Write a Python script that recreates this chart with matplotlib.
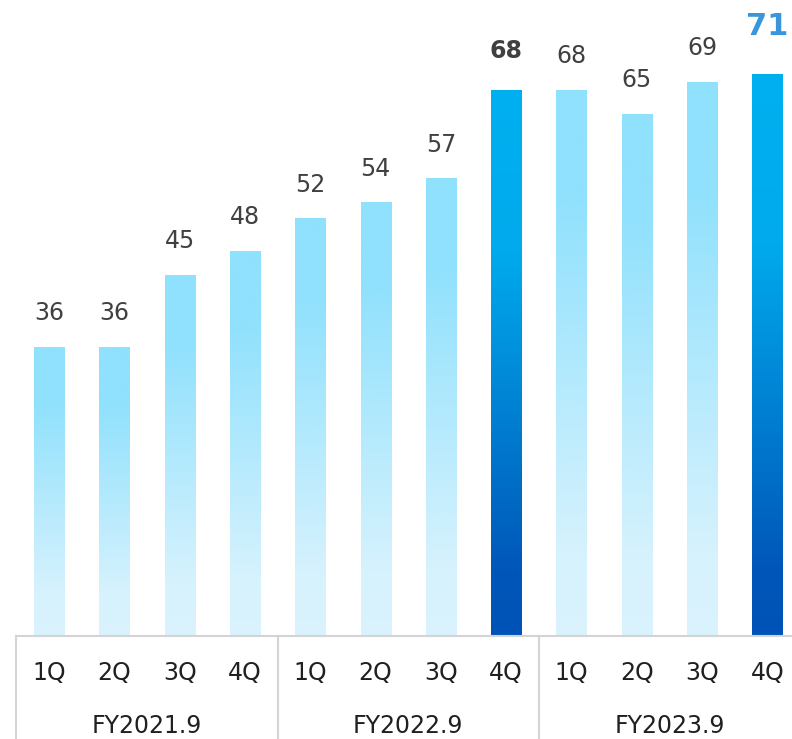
import numpy as np
import matplotlib
matplotlib.use("Agg")
import matplotlib.pyplot as plt
import matplotlib.transforms as mtransforms
from matplotlib.colors import LinearSegmentedColormap

# data
quarters = ["1Q", "2Q", "3Q", "4Q"] * 3
years = ["FY2021.9", "FY2022.9", "FY2023.9"]
labels = ["36", "36", "45", "48", "52", "54", "57", "68", "68", "65", "69", "71"]
heights = [36, 36, 45, 48, 52, 54, 57, 68, 68, 65, 69, 70]  # bar heights as drawn
highlight = [7, 11]

light = LinearSegmentedColormap.from_list(
    "light", [(0, "#daf3fd"), (0.15, "#d6f2fd"), (0.8, "#91e1fd"), (1, "#8fe1fd")])
dark = LinearSegmentedColormap.from_list(
    "dark", [(0, "#0053b6"), (0.12, "#0057b9"), (0.7, "#00aaec"), (1, "#00b0f0")])

fig = plt.figure(figsize=(7.92, 7.39), dpi=100)
ax = fig.add_axes([16.4/792, 103/739, 783.6/792, 636/739])

x = np.arange(len(heights))
w = 0.46
grad = np.linspace(0, 1, 256).reshape(-1, 1)
for i, v in enumerate(heights):
    cm = dark if i in highlight else light
    ax.imshow(grad, cmap=cm, origin="lower", aspect="auto",
              extent=[x[i]-w/2, x[i]+w/2, 0, v], interpolation="bicubic")
    if i == 11:
        ax.annotate(labels[i], (x[i], v), xytext=(0, 24), textcoords="offset points",
                    ha="center", va="bottom", fontsize=22, fontweight="bold", color="#3a96dc")
    elif i == 7:
        ax.annotate(labels[i], (x[i], v), xytext=(0, 20), textcoords="offset points",
                    ha="center", va="bottom", fontsize=17, fontweight="bold", color="#404040")
    else:
        ax.annotate(labels[i], (x[i], v), xytext=(0, 16), textcoords="offset points",
                    ha="center", va="bottom", fontsize=17, color="#404040")

ax.set_xlim(-0.5, len(heights)-0.5)
ax.set_ylim(0, 79.3)
for s in ax.spines.values():
    s.set_visible(False)
ax.set_xticks([])
ax.set_yticks([])

trans = mtransforms.blended_transform_factory(ax.transData, ax.transAxes)
ax.plot([-0.5, len(heights)-0.5], [0, 0], color="#d4d4d4", lw=1.5, transform=trans, clip_on=False)
for b in [-0.5, 3.5, 7.5]:
    ax.plot([b, b], [0, -0.2], color="#d4d4d4", lw=1.5, transform=trans, clip_on=False)

for i, q in enumerate(quarters):
    ax.text(x[i], -37/636, q, transform=trans, ha="center", va="center",
            fontsize=17, color="#202020")
for j, yr in enumerate(years):
    ax.text(4*j + 1.5, -90/636, yr, transform=trans, ha="center", va="center",
            fontsize=17, color="#202020")

fig.savefig("out.png", dpi=100)
